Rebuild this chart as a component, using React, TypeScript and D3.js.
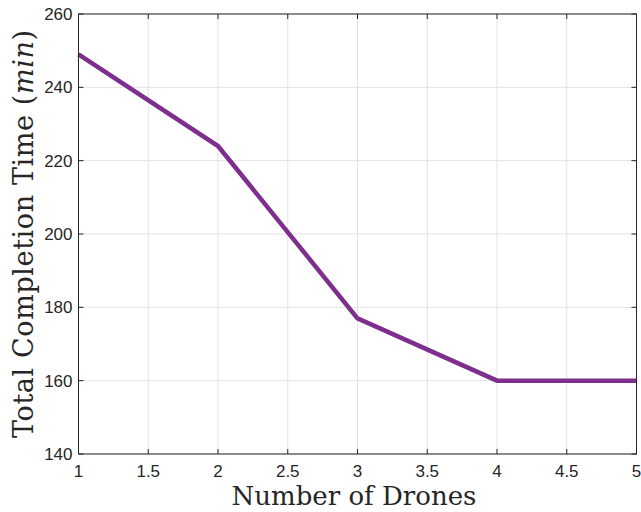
import React from "react";
import * as d3 from "d3";

const drones = [1, 2, 3, 4, 5];
const completionTime = [249, 224, 177, 160, 160];
const xTicks = [1, 1.5, 2, 2.5, 3, 3.5, 4, 4.5, 5];
const yTicks = [140, 160, 180, 200, 220, 240, 260];

const W = 641;
const H = 512;
const margin = { left: 78.5, right: 4.5, top: 14, bottom: 58 };

export default function App() {
  const x = d3.scaleLinear().domain([1, 5]).range([margin.left, W - margin.right]);
  const y = d3.scaleLinear().domain([140, 260]).range([H - margin.bottom, margin.top]);
  const line = d3
    .line<number>()
    .x((_, i) => x(drones[i]))
    .y((d) => y(d));
  const x0 = x.range()[0];
  const x1 = x.range()[1];
  const y0 = y.range()[0];
  const y1 = y.range()[1];
  const tickFont = "'Liberation Sans', Arial, sans-serif";
  const labelFont = "'DejaVu Serif', serif";
  return (
    <svg
      width={W}
      height={H}
      style={{ position: "absolute", left: 0, top: 0, background: "#fff" }}
    >
      {/* grid */}
      <g stroke="#e3e3e3" strokeWidth={1}>
        {xTicks.map((t) => (
          <line key={"gx" + t} x1={x(t)} x2={x(t)} y1={y0} y2={y1} />
        ))}
        {yTicks.map((t) => (
          <line key={"gy" + t} x1={x0} x2={x1} y1={y(t)} y2={y(t)} />
        ))}
      </g>
      {/* ticks */}
      <g stroke="#262626" strokeWidth={1}>
        {xTicks.map((t) => (
          <g key={"tx" + t}>
            <line x1={x(t)} x2={x(t)} y1={y0} y2={y0 - 5} />
            <line x1={x(t)} x2={x(t)} y1={y1} y2={y1 + 5} />
          </g>
        ))}
        {yTicks.map((t) => (
          <g key={"ty" + t}>
            <line x1={x0} x2={x0 + 5} y1={y(t)} y2={y(t)} />
            <line x1={x1} x2={x1 - 5} y1={y(t)} y2={y(t)} />
          </g>
        ))}
      </g>
      <path
        d={line(completionTime) ?? ""}
        fill="none"
        stroke="#7E2F8E"
        strokeWidth={4.5}
        strokeLinejoin="miter"
      />
      <rect
        x={x0}
        y={y1}
        width={x1 - x0}
        height={y0 - y1}
        fill="none"
        stroke="#262626"
        strokeWidth={1}
      />
      <g fontFamily={tickFont} fontSize={17} fill="#262626">
        {xTicks.map((t) => (
          <text key={"lx" + t} x={x(t)} y={y0 + 23} textAnchor="middle">
            {t}
          </text>
        ))}
        {yTicks.map((t) => (
          <text key={"ly" + t} x={x0 - 6} y={y(t) + 6} textAnchor="end">
            {t}
          </text>
        ))}
      </g>
      <text
        x={354}
        y={505}
        textAnchor="middle"
        fontFamily={labelFont}
        fontSize={26}
        fill="#262626"
      >
        Number of Drones
      </text>
      <text
        transform={`translate(33,${(y0 + y1) / 2}) rotate(-90)`}
        textAnchor="middle"
        fontFamily={labelFont}
        fontSize={27}
        fill="#262626"
        textLength={408}
        lengthAdjust="spacing"
      >
        Total Completion Time (<tspan fontStyle="italic">min</tspan>)
      </text>
    </svg>
  );
}
